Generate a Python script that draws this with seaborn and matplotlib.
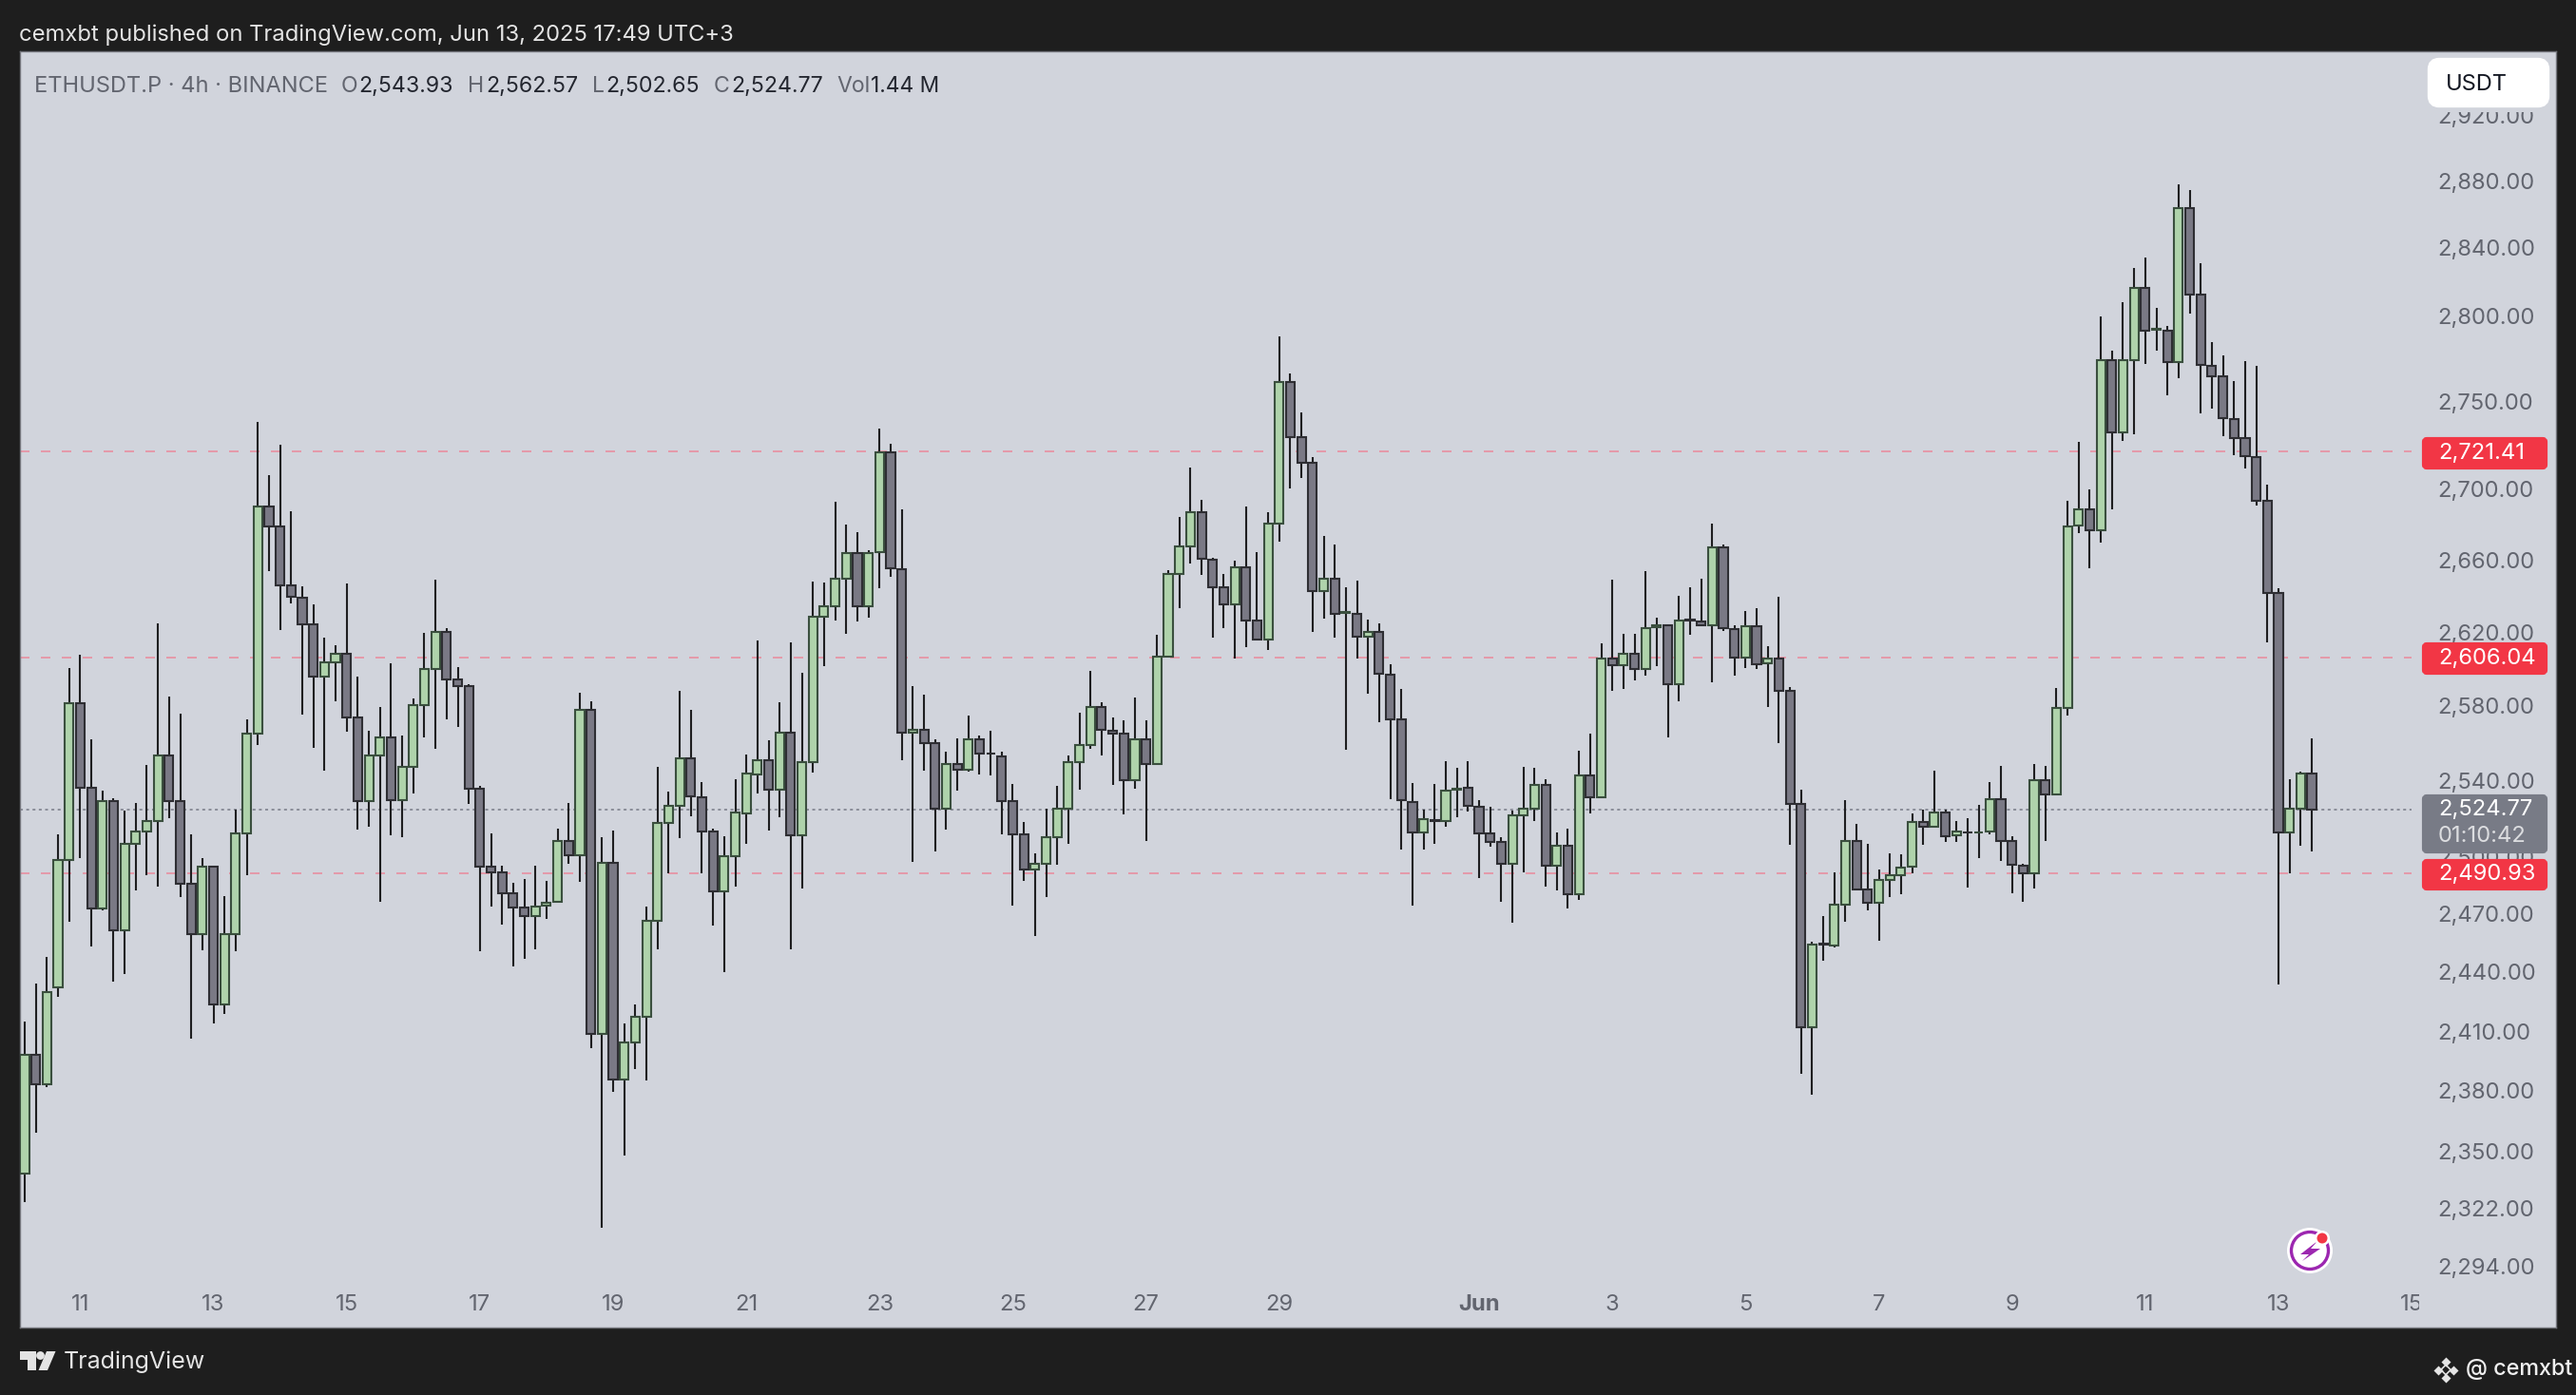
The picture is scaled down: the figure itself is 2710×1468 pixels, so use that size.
import numpy as np
import pandas as pd
import seaborn as sns
import matplotlib.pyplot as plt
from matplotlib.patches import FancyBboxPatch, Polygon, Circle, Rectangle
from matplotlib.transforms import Bbox

# ETHUSDT.P 4h candles
opens = [
    2339, 2398, 2383.5, 2432.4, 2498, 2581.6, 2536.2, 2472.6, 2529, 2461.3,
    2506.6, 2513, 2518.4, 2553.6, 2529, 2485.7, 2459.3, 2494.4, 2423.3, 2459.7,
    2512.1, 2564.9, 2690.4, 2679.1, 2646.1, 2639.3, 2624.4, 2595.9, 2603.7, 2608.5,
    2573.6, 2529, 2553.6, 2562.8, 2529.4, 2547.3, 2580.2, 2600.1, 2620.2, 2594.2,
    2590.9, 2535.5, 2494.7, 2491.4, 2480.5, 2473.3, 2468.8, 2474.2, 2476.2, 2508,
    2500.3, 2578, 2408.7, 2496.5, 2385.9, 2404.2, 2417.4, 2466.2, 2517.5, 2526.3,
    2552, 2531, 2513, 2481.7, 2500, 2522.7, 2543.4, 2550.6, 2535.3, 2565.8,
    2511.1, 2550, 2628.8, 2634.4, 2649.7, 2664, 2634.7, 2664.3, 2721.1, 2655,
    2565.8, 2567.3, 2559.8, 2525, 2549, 2545.5, 2562.2, 2554.5, 2553, 2529,
    2511.4, 2493.2, 2496.2, 2510.2, 2525, 2550, 2559.2, 2579.6, 2566.7, 2565,
    2540, 2562.2, 2548.8, 2606.9, 2652.4, 2667.8, 2687.1, 2660.5, 2645, 2635.3,
    2656.1, 2626.4, 2616.4, 2680.6, 2761.5, 2729.8, 2714.7, 2643.1, 2649.8, 2630.8,
    2630.5, 2617.5, 2620.3, 2597, 2573, 2528.7, 2512.6, 2519, 2518.7, 2535,
    2536, 2526.2, 2511.8, 2507.3, 2496.2, 2521.5, 2524.8, 2537.5, 2495.2, 2505.3,
    2480.1, 2542.5, 2531.2, 2606, 2602.3, 2608.2, 2600.2, 2623.2, 2624, 2592,
    2627.3, 2626.2, 2624, 2667.2, 2622, 2606.4, 2623.3, 2603.2, 2606, 2588.4,
    2527.6, 2411.8, 2454.4, 2453.7, 2474.7, 2507.8, 2482.5, 2475.5, 2487.8, 2489.9,
    2494.3, 2517.9, 2515.5, 2522.8, 2510.8, 2512.7, 2512.4, 2513, 2530.1, 2508,
    2494.9, 2490.9, 2540.3, 2532.6, 2579, 2679.6, 2688.5, 2676.9, 2773.7, 2732.3,
    2773.7, 2816.4, 2791.7, 2791.1, 2772.8, 2863.7, 2812.3, 2770.9, 2764.4, 2739.8,
    2728.9, 2718.4, 2693.3, 2641.6, 2512.5, 2524.8, 2543.93,
]
closes = [
    2398, 2383.5, 2430, 2498, 2581.6, 2536.2, 2472.6, 2529, 2461.3, 2506.6,
    2513, 2518.4, 2553.6, 2529, 2485.7, 2459.3, 2494.4, 2423.3, 2459.7, 2512.1,
    2564.9, 2690.4, 2679.1, 2646.1, 2639.5, 2624.4, 2595.9, 2603.7, 2608.5, 2573.6,
    2529, 2553.6, 2562.8, 2529.4, 2547.3, 2580.2, 2600.1, 2620.2, 2594.2, 2590.9,
    2535.5, 2494.7, 2491.4, 2480.5, 2473.3, 2468.8, 2473.9, 2475.8, 2508, 2500.3,
    2578, 2408.7, 2496.5, 2385.9, 2404.2, 2417.4, 2466.2, 2517.5, 2526.3, 2552,
    2531.4, 2513, 2481.7, 2500, 2523, 2543.7, 2550.6, 2535.3, 2565.8, 2511.1,
    2550, 2628.5, 2634.4, 2649.7, 2664, 2634.7, 2664, 2721.1, 2655.3, 2565.8,
    2567.3, 2559.8, 2525, 2549, 2545.5, 2562.2, 2554.2, 2554.2, 2529.3, 2511.4,
    2493.2, 2496.2, 2510.2, 2525, 2550, 2559.2, 2579.6, 2567, 2565.2, 2540,
    2562.2, 2548.8, 2606.6, 2652.2, 2667.8, 2687.1, 2660.7, 2645, 2635.3, 2656.1,
    2626.6, 2616.4, 2680.6, 2761.5, 2729.8, 2714.9, 2643.1, 2649.8, 2630.3, 2631.2,
    2617.5, 2620.3, 2597.3, 2573, 2529.6, 2512.6, 2519.3, 2518.7, 2534.4, 2535.8,
    2526.4, 2512, 2507.5, 2496.2, 2521.3, 2524.8, 2537.5, 2495.2, 2505.3, 2480.1,
    2542.5, 2531.2, 2606, 2602.3, 2608.2, 2600.2, 2622.5, 2624, 2592, 2626.8,
    2626.8, 2624, 2667.2, 2622.3, 2606.4, 2623.6, 2602.8, 2606, 2588.4, 2527.6,
    2411.8, 2454, 2454.3, 2474.7, 2507.8, 2482.7, 2475.5, 2487.4, 2489.9, 2493.9,
    2517.9, 2515.5, 2522.8, 2510.6, 2512.8, 2512.4, 2512.7, 2530.1, 2508, 2495.3,
    2490.9, 2540.3, 2532.6, 2579.1, 2679, 2688.5, 2676.9, 2773.7, 2732.3, 2773.7,
    2816.4, 2791.1, 2792, 2772.8, 2863.7, 2812.6, 2771.2, 2764.7, 2740.4, 2728.9,
    2718.7, 2693.6, 2641.9, 2512.5, 2524.8, 2543.9, 2524.77,
]
highs = [
    2415, 2434, 2448, 2511.6, 2600.8, 2608, 2561.8, 2534.8, 2530.8, 2524.1,
    2527.8, 2548.2, 2625.1, 2584.9, 2575.7, 2511.6, 2499.1, 2494.8, 2479.4, 2524.3,
    2572.9, 2738.5, 2707.7, 2725.3, 2687.4, 2645.4, 2635.4, 2617, 2612.9, 2646.9,
    2595.7, 2566.5, 2579.2, 2603.4, 2564, 2583.9, 2619.7, 2649, 2622.2, 2601.3,
    2591.9, 2537.1, 2511.8, 2494.8, 2485.9, 2488, 2495.1, 2487.1, 2514.6, 2527.8,
    2587.4, 2582.7, 2510.2, 2513.4, 2414, 2423.5, 2473.8, 2547.3, 2534, 2588,
    2577.8, 2539.2, 2514.3, 2510.5, 2540.7, 2553.9, 2615.7, 2561.6, 2582, 2614.8,
    2598.2, 2648.1, 2647.5, 2693, 2680, 2675.9, 2665.6, 2734.2, 2725.5, 2688.4,
    2591, 2586, 2562, 2555.4, 2562.5, 2574.8, 2564.3, 2566.7, 2555.6, 2538.2,
    2517.8, 2501.7, 2524.8, 2537, 2553.3, 2576.3, 2598.8, 2582, 2574, 2572.4,
    2584.7, 2572.4, 2619, 2654.7, 2684.5, 2712.3, 2694, 2661.3, 2652.2, 2659.6,
    2690, 2664.4, 2686.7, 2787.6, 2766, 2743.8, 2718.2, 2673.5, 2668.7, 2644.8,
    2648.8, 2627.3, 2625.3, 2602.9, 2589.3, 2538.4, 2524.6, 2538, 2550.3, 2546.7,
    2550.3, 2529.8, 2526.2, 2509.8, 2524, 2547.1, 2546.7, 2540.9, 2512.4, 2514.4,
    2556, 2565.3, 2614.3, 2649.4, 2619.5, 2619.5, 2653.8, 2628.2, 2624.5, 2640.3,
    2644.8, 2649.8, 2680.4, 2668.7, 2623.8, 2632, 2633.6, 2612.6, 2639.8, 2590.5,
    2534.9, 2455.8, 2468.7, 2491.7, 2529.7, 2517.1, 2506.3, 2492.9, 2501.4, 2500.8,
    2522.6, 2524.6, 2545.1, 2524.4, 2518.7, 2520.2, 2527.1, 2539.2, 2547.9, 2510.6,
    2495.8, 2548.9, 2547.9, 2589.7, 2693.6, 2727, 2699.6, 2799.5, 2779.6, 2808,
    2827.9, 2834.4, 2804.5, 2793.9, 2878.3, 2874.6, 2830.7, 2784.6, 2776.8, 2761.9,
    2773.4, 2770.6, 2702.6, 2644.3, 2540.8, 2544.8, 2562.57,
]
lows = [
    2325, 2359, 2382, 2427.6, 2466, 2498.9, 2452.9, 2471.7, 2434.9, 2438.9,
    2482.1, 2490.2, 2484.1, 2520, 2478.5, 2406.2, 2451.3, 2413.8, 2418.8, 2450.9,
    2490.2, 2559, 2654.2, 2621.2, 2635.8, 2575.5, 2557.6, 2545.4, 2582.7, 2566.1,
    2514.1, 2515.7, 2476, 2510.9, 2510.2, 2533, 2563, 2557, 2572.9, 2568.9,
    2527.3, 2450.9, 2473.9, 2464.2, 2443, 2446.8, 2451.8, 2467.2, 2476, 2496.2,
    2486.8, 2401.6, 2312.6, 2379.4, 2348, 2390.7, 2385, 2451.6, 2491.2, 2509.3,
    2520.9, 2490.9, 2464, 2440.1, 2483.9, 2506.7, 2533.2, 2513.4, 2520.6, 2451.9,
    2483, 2544, 2601.8, 2626.8, 2619.1, 2626, 2628.2, 2644.7, 2650.9, 2550.6,
    2497, 2545.4, 2502.6, 2514, 2534.4, 2544.6, 2543.1, 2542.5, 2511.4, 2474.1,
    2487, 2458.6, 2478.9, 2495.3, 2506.7, 2535.2, 2556.9, 2553.3, 2537.6, 2521.8,
    2535.8, 2508.2, 2548.5, 2606.5, 2633.3, 2658, 2651.6, 2617.1, 2622.5, 2606,
    2611.9, 2615.6, 2610.4, 2670.2, 2700.6, 2706.4, 2620.5, 2627.7, 2617.1, 2556.3,
    2606, 2586.6, 2571.4, 2530, 2503.5, 2474.3, 2503.5, 2506.5, 2515.5, 2520.7,
    2523.3, 2488.5, 2504.9, 2476.3, 2465.5, 2491.5, 2518.3, 2484.1, 2482.1, 2472.9,
    2477.3, 2522.7, 2531, 2588.3, 2589.3, 2593.9, 2596.4, 2601.8, 2562.9, 2582.6,
    2618.8, 2623.8, 2592.6, 2621, 2596.6, 2600.5, 2600, 2579.5, 2560.1, 2505.9,
    2388.4, 2378, 2445.7, 2452.5, 2465.8, 2482, 2471.8, 2456, 2478.6, 2480.4,
    2491.3, 2505.9, 2515.4, 2507.3, 2507.3, 2483.7, 2499, 2511.4, 2497.4, 2480.6,
    2476.3, 2483.1, 2507.8, 2532.4, 2574.6, 2675.1, 2655.4, 2669.7, 2688.8, 2727.3,
    2731.4, 2771.8, 2779.6, 2753.5, 2763.7, 2801.1, 2743.2, 2746, 2730.1, 2719,
    2711.5, 2690.6, 2614.7, 2433.9, 2490.9, 2505.5, 2502.65,
]

price_ticks = [2294, 2322, 2350, 2380, 2410, 2440, 2470, 2500, 2540, 2580,
               2620, 2660, 2700, 2750, 2800, 2840, 2880, 2920]
level_lines = [2721.41, 2606.04, 2490.93]
last_price = 2524.77
day_ticks = [0, 2, 4, 6, 8, 10, 12, 14, 16, 18, 21, 23, 25, 27, 29, 31, 33, 35]
day_labels = ['11', '13', '15', '17', '19', '21', '23', '25', '27', '29', 'Jun',
              '3', '5', '7', '9', '11', '13', '15']

FRAME = '#1e1e1e'
PANEL = '#d1d4dc'
UP = '#afd3ab'
UP_EDGE = '#3a4f3e'
DOWN = '#7a7985'
DOWN_EDGE = '#2e2e33'
WICK = '#1e1e20'
GRAY_TEXT = '#62656f'
DARK_TEXT = '#23262f'
RED = '#f23645'
TAG_GRAY = '#787b86'

sns.set_theme(style='dark', rc={'axes.facecolor': PANEL, 'figure.facecolor': FRAME})
plt.rcParams['font.family'] = ['Inter', 'DejaVu Sans']

W, H = 2710, 1468
fig = plt.figure(figsize=(W / 100, H / 100), dpi=100)
ax = fig.add_axes([20.5 / W, (H - 1397) / H, (2689 - 20.5) / W, (1397 - 54) / H])
ax.set_yscale('log')

o = np.array(opens)
c = np.array(closes)
idx = np.arange(1, len(o) + 1)
df = pd.DataFrame({'i': idx, 'open': o, 'high': highs, 'low': lows, 'close': c})

# level lines go under the candles
ax.hlines(level_lines, 0.53, 216, colors='#e98fa0', linewidth=1.2, linestyles=[(0, (6, 7.2))], zorder=1)
ax.hlines(last_price, 0.53, 216, colors=TAG_GRAY, linewidth=1.1, linestyles=[(0, (2, 2.33))], zorder=1)

wicks = df.melt(id_vars='i', value_vars=['high', 'low'], value_name='price')
sns.lineplot(data=wicks, x='i', y='price', units='i', estimator=None, color=WICK,
             linewidth=1.5, solid_capstyle='butt', legend=False, ax=ax, zorder=2)

up = df[df.close >= df.open]
down = df[df.close < df.open]
ax.bar(up.i, up.close - up.open, bottom=up.open, width=0.78, color=UP,
       edgecolor=UP_EDGE, linewidth=1.5, zorder=3)
ax.bar(down.i, down.open - down.close, bottom=down.close, width=0.78, color=DOWN,
       edgecolor=DOWN_EDGE, linewidth=1.5, zorder=3)

ax.set_xlim(0.53, 229)
ax.set_ylim(2264.8, 2959.5)
ax.set_xlabel('')
ax.set_ylabel('')
ax.grid(False)

ax.set_yticks(price_ticks)
ax.set_yticklabels([f'{p:,.2f}' for p in price_ticks])
ax.minorticks_off()
ax.yaxis.tick_right()
ax.tick_params(axis='y', length=0, pad=-90, labelsize=17.1, labelcolor=GRAY_TEXT)

ax.set_xticks([6 + 6 * d for d in day_ticks])
ax.set_xticklabels(day_labels)
ax.tick_params(axis='x', length=0, pad=-25.5, labelsize=17.1, labelcolor=GRAY_TEXT)
for lab in ax.get_xticklabels():
    if lab.get_text() == 'Jun':
        lab.set_fontweight('bold')
    # the price scale cuts off the last date
    lab.set_clip_box(Bbox([[0, 0], [2545, H]]))
    lab.set_clip_on(True)

for s in ax.spines.values():
    s.set_color('#74757c')
    s.set_linewidth(1)

# overlay in image pixels for the TradingView chrome
top = fig.add_axes([0, 0, 1, 1], zorder=5)
top.set_xlim(0, W)
top.set_ylim(H, 0)
top.axis('off')
top.patch.set_alpha(0)

top.text(20, 37, 'cemxbt published on TradingView.com, Jun 13, 2025 17:49 UTC+3',
         color='#e4e4e4', fontsize=17.1, va='center', ha='left')

legend_parts = [
    (36.5, 'ETHUSDT.P · 4h · BINANCE', GRAY_TEXT, 17), (359, 'O', GRAY_TEXT, 16.6), (377, '2,543.93', DARK_TEXT, 16.7),
    (492, 'H', GRAY_TEXT, 16.6), (511, '2,562.57', DARK_TEXT, 16.7), (623, 'L', GRAY_TEXT, 16.6), (637, '2,502.65', DARK_TEXT, 16.7),
    (751, 'C', GRAY_TEXT, 16.6), (769, '2,524.77', DARK_TEXT, 16.7), (880, 'Vol', GRAY_TEXT, 16.6), (916, '1.44 M', DARK_TEXT, 16.4),
]
for x, txt, col, size in legend_parts:
    top.text(x, 91, txt, color=col, fontsize=size, va='center', ha='left')

# the button keeps a clear margin round it, which hides half of the top price label
top.add_patch(Rectangle((2548, 56), 139, 62, fc=PANEL, ec='none'))
top.add_patch(FancyBboxPatch((2558, 65), 120, 44, boxstyle='round,pad=0,rounding_size=8',
                             mutation_aspect=1, fc='white', ec='white', lw=6))
top.text(2573, 89, 'USDT', color='#131722', fontsize=17, va='center', ha='left')


def tag(y0, y1, color):
    top.add_patch(FancyBboxPatch((2550, y0 + 2), 128, y1 - y0 - 4, boxstyle='round,pad=0,rounding_size=3',
                                 fc=color, ec=color, lw=3))


tag(460, 494, RED)
tag(676, 710, RED)
tag(836, 898, TAG_GRAY)
tag(904, 937, RED)
for y, txt in [(477, '2,721.41'), (693, '2,606.04'), (920.5, '2,490.93'), (851.5, '2,524.77')]:
    top.text(2565, y, txt, color='white', fontsize=17.1, va='center', ha='left')
top.text(2565, 880, '01:10:42', color='#dcdde0', fontsize=17.1, va='center', ha='left')

# news icon
top.add_patch(Circle((2430, 1316), 24, fc='white', ec='none'))
top.add_patch(Circle((2430, 1316), 19.5, fc='white', ec='#9c27b0', lw=2.4))
top.add_patch(Polygon([(2438, 1306), (2420, 1320), (2429, 1320), (2422, 1327), (2441, 1314), (2431, 1314)],
                      fc='#9c27b0', ec='none'))
top.add_patch(Circle((2443, 1303), 8, fc='white', ec='none'))
top.add_patch(Circle((2443, 1303), 5.5, fc=RED, ec='none'))

# footer
LOGO = '#e4e4e4'
top.add_patch(Polygon([(20.5, 1422), (38, 1422), (38, 1442), (29, 1442), (29, 1431), (20.5, 1431)], fc=LOGO, ec='none'))
top.add_patch(Circle((42.5, 1426.5), 4.4, fc=LOGO, ec='none'))
top.add_patch(Polygon([(49, 1422), (58.5, 1422), (50, 1442), (40.5, 1442)], fc=LOGO, ec='none'))
top.text(67, 1433, 'TradingView', color=LOGO, fontsize=18, va='center', ha='left')

top.scatter([2565, 2581, 2573, 2573], [1441.5, 1441.5, 1433, 1450], marker='D', s=26, c=LOGO, linewidths=0)
top.scatter([2573], [1441.5], marker='D', s=28, facecolors='none', edgecolors=LOGO, linewidths=1.2)
top.text(2594, 1441, '@ cemxbt', color='#f0f0f0', fontsize=16.8, va='center', ha='left', fontweight='medium')

fig.savefig('out.png', dpi=100, facecolor=FRAME)
